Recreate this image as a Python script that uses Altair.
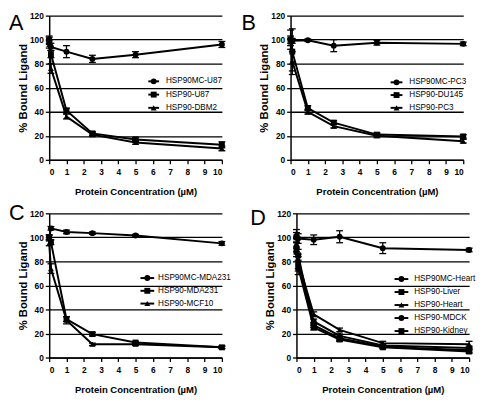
import altair as alt
import pandas as pd

conc = [0, 0.1, 1, 2.5, 5, 10]
shapes = ["circle", "square", "triangle-up", "triangle-down", "diamond"]

a_series = ["HSP90MC-U87", "HSP90-U87", "HSP90-DBM2"]
a_mean = [
    [100, 94, 90, 84, 87.5, 96],
    [99, 88, 41, 22, 17, 12.5],
    [96, 76, 36, 21, 14.5, 9.5],
]
a_err = [
    [3, 3, 5, 3, 2.5, 2.5],
    [3, 3, 2, 1.5, 1.5, 2.5],
    [3, 4, 2, 1.5, 1.5, 2],
]

b_series = ["HSP90MC-PC3", "HSP90-DU145", "HSP90-PC3"]
b_mean = [
    [100, 99, 99.5, 95, 97.5, 96.5],
    [100, 90, 43, 31, 21, 19.5],
    [98, 82, 40, 28, 20, 15.5],
]
b_err = [
    [3, 2, 1, 5, 2, 1.5],
    [8, 19, 2, 1.5, 1.5, 1.5],
    [3, 8, 2, 1.5, 1.5, 1.5],
]

c_series = ["HSP90MC-MDA231", "HSP90-MDA231", "HSP90-MCF10"]
c_mean = [
    [100, 107.5, 104.5, 103.5, 101.5, 95],
    [100, 96, 32, 19.5, 12.5, 8.5],
    [95, 74, 31, 11, 11, 8.5],
]
c_err = [
    [2, 1.5, 1.5, 1, 1, 1.5],
    [2, 2, 2, 1.5, 1, 1],
    [2, 4, 3, 1, 1, 1],
]

d_series = ["HSP90MC-Heart", "HSP90-Liver", "HSP90-Heart", "HSP90-MDCK", "HSP90-Kidney"]
d_mean = [
    [101, 99, 98, 100.5, 91, 89.5],
    [100, 85, 27, 16, 9, 6],
    [95, 80, 36, 23, 12, 11],
    [92, 78, 30, 18, 10, 8],
    [88, 75, 25, 15, 8.5, 5],
]
d_err = [
    [5.5, 4, 4, 5, 4.5, 1.5],
    [4, 5, 2, 1.5, 1, 1.5],
    [4, 6, 2, 1.5, 1.5, 2.5],
    [4, 6, 2, 1.5, 1, 1.5],
    [4, 6, 2, 1.5, 1, 1.5],
]

FONT = "Liberation Sans, Arial, sans-serif"
W, H = 176, 147


def panel(series, means, errs, letter, letter_x, letter_y, leg_rows, leg_x0, leg_x1, text_x):
    rows = []
    for s, m, e in zip(series, means, errs):
        for c, v, d in zip(conc, m, e):
            rows.append({"series": s, "conc": c, "val": v, "lo": v - d, "hi": v + d})
    df = pd.DataFrame(rows)
    shape_scale = alt.Scale(domain=series, range=shapes[: len(series)])
    xs = alt.Scale(domain=[0, 10], nice=False)
    ys = alt.Scale(domain=[0, 120], nice=False)
    xaxis = alt.Axis(values=list(range(11)), title="Protein Concentration (µM)", grid=False,
                     titlePadding=11, labelPadding=4, titleFontSize=9.7)
    yaxis = alt.Axis(values=[0, 20, 40, 60, 80, 100, 120], title="% Bound Ligand", grid=True,
                     titlePadding=1, labelPadding=2, titleFontSize=11.5)
    X = alt.X("conc:Q", scale=xs, axis=xaxis)
    Y = alt.Y("val:Q", scale=ys, axis=yaxis)
    base = alt.Chart(df)
    lines = base.mark_line(color="black", strokeWidth=2).encode(x=X, y=Y, detail="series:N")
    ebar = base.mark_rule(color="black", strokeWidth=1.3).encode(
        x=X, y=alt.Y("lo:Q", scale=ys, axis=yaxis), y2="hi:Q")
    tlo = base.mark_tick(orient="horizontal", size=7, thickness=1.3, color="black", opacity=1).encode(
        x=X, y=alt.Y("lo:Q", scale=ys, axis=yaxis))
    thi = base.mark_tick(orient="horizontal", size=7, thickness=1.3, color="black", opacity=1).encode(
        x=X, y=alt.Y("hi:Q", scale=ys, axis=yaxis))
    pts = base.mark_point(filled=True, color="black", opacity=1, size=36).encode(
        x=X, y=Y, shape=alt.Shape("series:N", scale=shape_scale, legend=None))
    main = alt.layer(lines, ebar, tlo, thi, pts)

    ldf = pd.DataFrame({"series": series})
    LY = alt.Y("series:N", sort=series,
               scale=alt.Scale(type="point", domain=series, range=leg_rows, padding=0), axis=None)
    lrule = alt.Chart(ldf).mark_rule(color="black", strokeWidth=2).encode(
        x=alt.value(leg_x0), x2=alt.value(leg_x1), y=LY)
    lpt = alt.Chart(ldf).mark_point(filled=True, color="black", opacity=1, size=36).encode(
        x=alt.value((leg_x0 + leg_x1) / 2), y=LY,
        shape=alt.Shape("series:N", scale=shape_scale, legend=None))
    ltxt = alt.Chart(ldf).mark_text(align="left", baseline="middle", font=FONT, fontSize=8.3,
                                     color="black").encode(x=alt.value(text_x), y=LY, text="series:N")
    lett = alt.Chart(pd.DataFrame({"t": [letter]})).mark_text(
        align="left", baseline="alphabetic", font=FONT, fontSize=22, color="black").encode(
        x=alt.value(letter_x), y=alt.value(letter_y), text="t:N")
    leg = alt.layer(lrule, lpt, ltxt, lett)
    return alt.layer(main, leg).resolve_scale(y="independent").properties(width=W, height=H)


pa = panel(a_series, a_mean, a_err, "A", -41, 15, [67, 94], 101, 112, 119)
pb = panel(b_series, b_mean, b_err, "B", -50, 15, [68, 94], 102, 114, 121)
pc = panel(c_series, c_mean, c_err, "C", -41, 7, [66, 92], 93, 107, 111)
pd_ = panel(d_series, d_mean, d_err, "D", -47, 12, [67, 120], 100, 114, 120)

top = alt.hconcat(pa, pb, spacing=70, bounds="flush")
bottom = alt.hconcat(pc, pd_, spacing=76, bounds="flush")
chart = alt.vconcat(top, bottom, spacing=4.5).properties(
    padding={"left": 0, "top": -1, "right": 0, "bottom": 0}
).configure_view(stroke="transparent").configure_axis(
    domainColor="black", domainWidth=1.5, tickColor="black", tickWidth=1.3, tickSize=4,
    labelFont=FONT, labelFontSize=8.5, labelFontWeight="bold", labelColor="black",
    titleFont=FONT, titleFontSize=10, titleFontWeight="bold", titleColor="black",
    gridColor="black", gridWidth=1.3, gridOpacity=1,
)

chart.save("out.html", embed_options={"renderer": "svg", "actions": False})
